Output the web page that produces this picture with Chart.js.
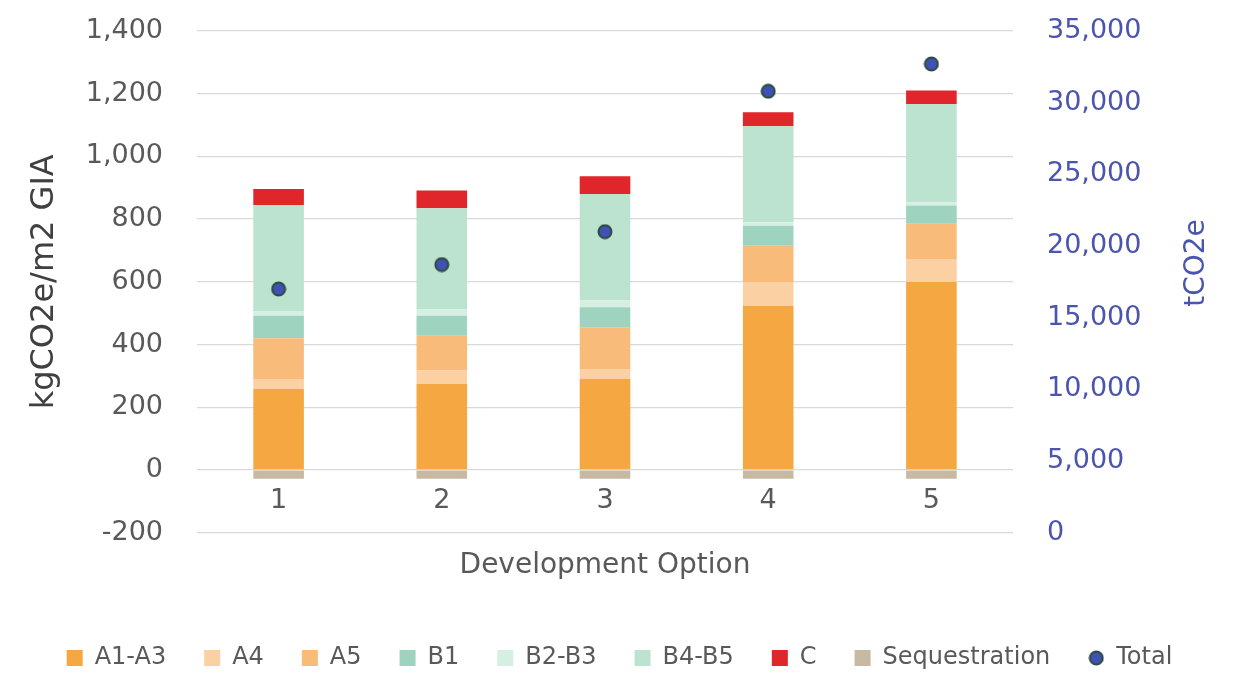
<!DOCTYPE html>
<html>
<head>
<meta charset="utf-8">
<script src="https://cdn.jsdelivr.net/npm/chart.js@4.4.1/dist/chart.umd.min.js"></script>
<style>
  html, body { margin: 0; padding: 0; background: #fff; }
  #wrap { width: 1239px; height: 673px; }
</style>
</head>
<body>
<div id="wrap"><canvas id="chart"></canvas></div>
<script>
// development options on the x axis
const options = ['1', '2', '3', '4', '5'];

// kgCO2e/m2 GIA per lifecycle stage (left axis)
const a1a3 = [258, 274, 290, 524, 599];
const a4 = [32, 43, 32, 75, 74];
const a5 = [130, 111, 133, 116, 112];
const b1 = [72, 64, 64, 64, 58];
const b2b3 = [13, 20, 21, 11, 11];
const b4b5 = [340, 323, 340, 306, 313];
const c = [51, 56, 57, 45, 43];
const sequestration = [-28, -28, -28, -28, -28];

// tCO2e total (right axis)
const total = [17000, 18700, 21000, 30800, 32700];

const FONT = 'DejaVu Sans';
const GREY = '#595959';
const BLUE = '#4b55b0';

// small round glyph for the "Total" legend entry
const dot = document.createElement('canvas');
dot.width = 16; dot.height = 16;
(() => {
    const g = dot.getContext('2d');
    g.beginPath();
    g.arc(8, 8, 6.5, 0, Math.PI * 2);
    g.fillStyle = '#3f51b5';
    g.fill();
    g.lineWidth = 2;
    g.strokeStyle = '#2d4b3c';
    g.stroke();
})();

function barSet(label, data, color) {
    return {
        type: 'bar',
        label,
        data,
        backgroundColor: color,
        borderWidth: 0,
        pointStyle: 'rect',
        barPercentage: 0.31,
        categoryPercentage: 1,
        yAxisID: 'y',
        order: 1,
    };
}

// right-hand axis title, reads bottom-to-top like the left one
const rightTitle = {
    id: 'rightTitle',
    afterDraw(chart) {
        const ctx = chart.ctx;
        ctx.save();
        ctx.translate(1197, 263);
        ctx.rotate(-Math.PI / 2);
        ctx.font = `28px "${FONT}"`;
        ctx.fillStyle = BLUE;
        ctx.textAlign = 'center';
        ctx.textBaseline = 'middle';
        ctx.fillText('tCO2e', 0, 0);
        ctx.restore();
    },
};

// invisible tick marks give the label gap without the extra top padding ticks.padding adds
const hiddenTicks = { drawTicks: true, tickLength: 34, tickColor: 'rgba(0,0,0,0)' };

new Chart(document.getElementById('chart'), {
    data: {
        labels: options,
        datasets: [
            barSet('A1-A3', a1a3, '#f5a742'),
            barSet('A4', a4, '#fbd0a2'),
            barSet('A5', a5, '#f9bb7a'),
            barSet('B1', b1, '#9dd3bf'),
            barSet('B2-B3', b2b3, '#d6efe3'),
            barSet('B4-B5', b4b5, '#bce3d0'),
            barSet('C', c, '#e0262b'),
            barSet('Sequestration', sequestration, '#c8b9a2'),
            {
                type: 'line',
                label: 'Total',
                data: total,
                showLine: false,
                yAxisID: 'y2',
                pointStyle: dot,
                pointRadius: 8,
                pointHoverRadius: 8,
                pointBackgroundColor: '#3f51b5',
                pointBorderColor: '#2d4b3c',
                pointBorderWidth: 2,
                order: 0,
            },
        ],
    },
    options: {
        responsive: true,
        maintainAspectRatio: false,
        animation: false,
        layout: { padding: { top: 31, left: 0, right: 0, bottom: -7 } },
        plugins: {
            tooltip: { enabled: false },
            legend: {
                position: 'bottom',
                title: { display: true, text: '', padding: 30.5 },
                labels: {
                    usePointStyle: true,
                    boxWidth: 16,
                    boxHeight: 16,
                    padding: 38,
                    color: GREY,
                    font: { family: FONT, size: 24 },
                    sort: (a, b) => a.datasetIndex - b.datasetIndex,
                },
            },
        },
        scales: {
            x: {
                stacked: true,
                position: { y: 0 },
                grid: { display: false, drawTicks: false },
                border: { display: false },
                ticks: { padding: 15, color: GREY, font: { family: FONT, size: 27 } },
                title: {
                    display: true,
                    text: 'Development Option',
                    color: GREY,
                    font: { family: FONT, size: 28 },
                    padding: { top: 17, bottom: 0 },
                },
            },
            y: {
                stacked: true,
                position: 'left',
                min: -200,
                max: 1400,
                ticks: { stepSize: 200, padding: 0, color: GREY, font: { family: FONT, size: 27 } },
                grid: { color: '#d9d9d9', lineWidth: 1.3, ...hiddenTicks },
                border: { display: false },
                title: {
                    display: true,
                    text: 'kgCO2e/m2 GIA',
                    color: '#404040',
                    font: { family: FONT, size: 32 },
                    padding: { top: 25, bottom: 0 },
                },
                afterFit(scale) { scale.width = 197; },
            },
            y2: {
                position: 'right',
                min: 0,
                max: 35000,
                ticks: { stepSize: 5000, padding: 0, color: BLUE, font: { family: FONT, size: 27 } },
                grid: { display: false, ...hiddenTicks },
                border: { display: false },
                afterFit(scale) { scale.width = 226; },
            },
        },
    },
    plugins: [rightTitle],
});
</script>
</body>
</html>
